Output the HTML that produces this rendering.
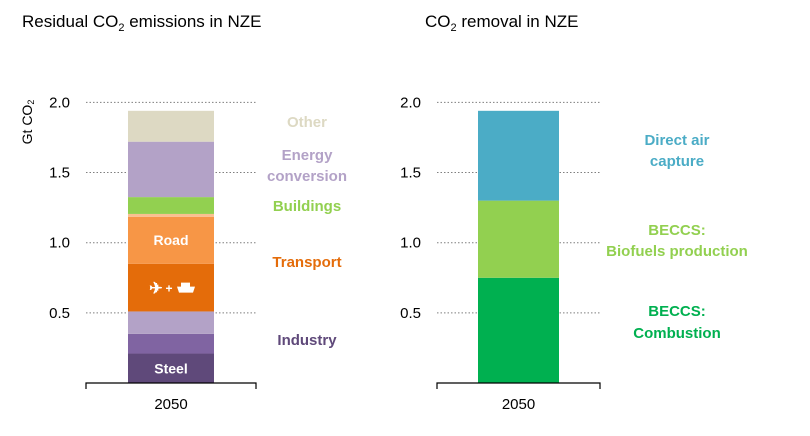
<!DOCTYPE html>
<html><head><meta charset="utf-8"><style>
body{margin:0;background:#fff;}
svg{display:block;font-family:"Liberation Sans",sans-serif;}
</style></head><body>
<svg id="chart" width="810" height="436" viewBox="0 0 810 436">
<text x="22" y="27" font-size="17" fill="#000">Residual CO<tspan font-size="11" dy="4">2</tspan><tspan dy="-4"> emissions in NZE</tspan></text>
<text x="425" y="27" font-size="17" fill="#000">CO<tspan font-size="11" dy="4">2</tspan><tspan dy="-4"> removal in NZE</tspan></text>
<text transform="translate(32,122) rotate(-90)" text-anchor="middle" font-size="14" fill="#000">Gt CO<tspan font-size="9" dy="2">2</tspan></text>
<g id="left"></g>
<g id="right"></g>
</svg>
<script>
const ticks=[0.5,1.0,1.5,2.0];
const tickLabels=["0.5","1.0","1.5","2.0"];
const leftNames=["Steel","Other industry","Light industry","Aviation and shipping","Road","Other transport","Buildings","Energy conversion","Other"];
const leftValues=[0.21,0.14,0.16,0.34,0.335,0.02,0.12,0.395,0.22];
const leftColors=["#5f497a","#8064a2","#b3a2c7","#e46c0a","#f79646","#fac090","#92d050","#b3a2c7","#ddd9c3"];
const rightNames=["BECCS combustion","BECCS biofuels","Direct air capture"];
const rightValues=[0.75,0.55,0.64];
const rightColors=["#00b050","#92d050","#4bacc6"];
const category="2050";
const NS="http://www.w3.org/2000/svg";
const base=383, scale=140.3;
const y=v=>base-v*scale;
function mk(p,tag,attrs,text){const e=document.createElementNS(NS,tag);for(const k in attrs)e.setAttribute(k,attrs[k]);if(text!=null)e.textContent=text;p.appendChild(e);return e;}
function panel(g,ax0,ax1,bx0,bx1,labX,names,values,colors,prefix){
  ticks.forEach((t,i)=>{
    const l=mk(g,'line',{x1:ax0,x2:ax1,y1:y(t),y2:y(t),stroke:'#7f7f7f','stroke-width':1,'stroke-dasharray':'1.5 2'});
    
    
    const tx=mk(g,'text',{x:labX,y:y(t)+5,'text-anchor':'end','font-size':15,fill:'#000'},tickLabels[i]);
    
    
  });
  let cum=0;
  values.forEach((v,i)=>{
    const r=mk(g,'rect',{x:bx0,width:bx1-bx0,y:y(cum+v),height:v*scale,fill:colors[i]});
    
    
    cum+=v;
  });
  const ax=mk(g,'path',{d:`M${ax0},${base+6}V${base}H${ax1}V${base+6}`,stroke:'#000','stroke-width':1.2,fill:'none'});
  
  
  const c=mk(g,'text',{x:(ax0+ax1)/2,y:409,'text-anchor':'middle','font-size':15,fill:'#000'},category);
  
  
  return g;
}
const L=panel(document.getElementById('left'),86,256,128,214,70,leftNames,leftValues,leftColors,'left');
const R=panel(document.getElementById('right'),437,600,478,559,421,rightNames,rightValues,rightColors,'right');
function lab(g,x,yy,txt,col,name){const t=mk(g,'text',{x:x,y:yy,'text-anchor':'middle','font-size':15,'font-weight':'bold',fill:col},txt);return t;}
let c1=leftValues[0]/2, c4=leftValues[0]+leftValues[1]+leftValues[2]+leftValues[3]/2, c5=leftValues[0]+leftValues[1]+leftValues[2]+leftValues[3]+leftValues[4]/2;
lab(L,171,y(c1)+5,"Steel","#fff","steel-label").setAttribute('font-size','14');
lab(L,171,y(c5)+5,"Road","#fff","road-label").setAttribute('font-size','14');
lab(L,156,y(c4)+6,"✈","#fff","plane-icon").setAttribute('font-size','16');
lab(L,169,y(c4)+5,"+","#fff","plus-sign").setAttribute('font-size','12');
const ship=mk(L,'path',{d:`M177,${y(c4)-1}h18l-2,6h-14z M181,${y(c4)-1}v-4h9v4z`,fill:'#fff'});


lab(L,307,127,"Other","#ddd9c3","other-label");
lab(L,307,160,"Energy","#b3a2c7","energy-label-1");
lab(L,307,181,"conversion","#b3a2c7","energy-label-2");
lab(L,307,211,"Buildings","#92d050","buildings-label");
lab(L,307,267,"Transport","#e46c0a","transport-label");
lab(L,307,345,"Industry","#5f497a","industry-label");
lab(R,677,145,"Direct air","#4bacc6","dac-label-1");
lab(R,677,166,"capture","#4bacc6","dac-label-2");
lab(R,677,235,"BECCS:","#92d050","biofuels-label-1");
lab(R,677,256,"Biofuels production","#92d050","biofuels-label-2");
lab(R,677,316,"BECCS:","#00b050","combustion-label-1");
lab(R,677,338,"Combustion","#00b050","combustion-label-2");
</script>
</body></html>
